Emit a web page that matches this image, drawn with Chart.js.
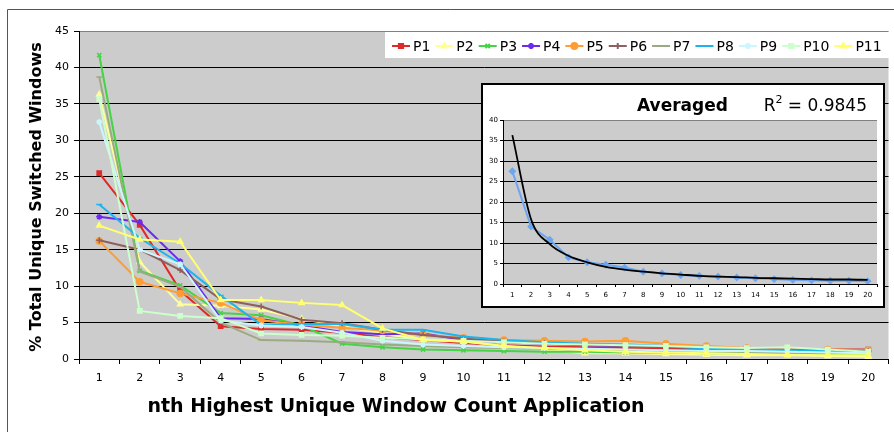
<!DOCTYPE html>
<html>
<head>
<meta charset="utf-8">
<script src="https://cdn.jsdelivr.net/npm/chart.js@4.4.0/dist/chart.umd.min.js"></script>
<style>
    body { margin: 0; background: #fff; }
    #wrap { position: relative; width: 894px; height: 432px; overflow: hidden; }
    #main { position: absolute; left: 0; top: 0; }
    #inset { position: absolute; left: 481px; top: 83px; width: 400px; height: 221px; border: 2px solid #000; background: #fff; }
</style>
</head>
<body>
<div id="wrap">
    <canvas id="main" width="894" height="432"></canvas>
    <div id="inset"><canvas id="avg" width="400" height="221"></canvas></div>
</div>
<script>
// rank of the application (x categories)
const ranks = ['1', '2', '3', '4', '5', '6', '7', '8', '9', '10', '11', '12', '13', '14', '15', '16', '17', '18', '19', '20'];

// % of total unique switched windows, per participant
const p1  = [25.5, 18.4, 9.4, 4.5, 4.1, 4.0, 3.6, 3.0, 2.6, 2.2, 1.9, 1.7, 1.6, 1.5, 1.4, 1.4, 1.3, 1.3, 1.3, 1.3];
const p2  = [36.3, 13.3, 7.5, 7.3, 6.8, 5.5, 4.5, 3.5, 2.6, 2.4, 1.8, 1.3, 0.8, 0.8, 0.7, 0.6, 0.5, 0.5, 0.4, 0.3];
const p3  = [41.7, 12.1, 10.1, 6.3, 6.0, 4.6, 2.1, 1.6, 1.3, 1.2, 1.1, 1.0, 1.0, 0.9, 0.9, 0.8, 0.8, 0.7, 0.7, 0.6];
const p4  = [19.5, 18.8, 13.4, 5.6, 5.5, 4.6, 3.7, 3.4, 3.5, 2.6, 2.3, 2.1, 1.9, 1.8, 1.7, 1.6, 1.4, 1.3, 1.2, 1.1];
const p5  = [16.2, 10.6, 9.0, 7.7, 5.3, 4.7, 4.3, 3.9, 3.3, 2.9, 2.6, 2.5, 2.4, 2.5, 2.1, 1.8, 1.5, 1.4, 1.3, 1.2];
const p6  = [16.3, 15.0, 12.2, 8.2, 7.2, 5.4, 4.9, 4.0, 3.3, 2.8, 2.4, 2.2, 2.0, 1.8, 1.6, 1.5, 1.4, 1.3, 1.2, 1.1];
const p7  = [38.7, 12.0, 9.9, 5.0, 2.6, 2.5, 2.3, 2.0, 1.8, 1.6, 1.5, 1.4, 1.3, 1.2, 1.1, 1.0, 1.0, 0.9, 0.9, 0.8];
const p8  = [21.2, 16.6, 13.1, 8.7, 4.7, 4.8, 4.8, 4.0, 4.0, 3.1, 2.6, 2.3, 2.1, 2.0, 1.8, 1.4, 1.3, 1.2, 1.1, 1.0];
const p9  = [32.5, 15.0, 13.0, 5.3, 4.6, 4.4, 3.6, 2.5, 2.0, 1.8, 1.6, 1.5, 1.4, 1.3, 1.2, 1.1, 1.1, 1.0, 0.9, 0.8];
const p10 = [35.7, 6.6, 5.9, 5.6, 3.5, 3.3, 3.2, 2.9, 2.7, 2.5, 2.3, 2.1, 2.0, 1.9, 1.8, 1.6, 1.5, 1.6, 1.3, 1.0];
const p11 = [18.3, 16.4, 16.1, 8.1, 8.1, 7.7, 7.4, 4.2, 2.6, 2.4, 1.8, 1.5, 1.2, 1.0, 0.9, 0.8, 0.7, 0.6, 0.5, 0.5];

const seriesNames = ['P1', 'P2', 'P3', 'P4', 'P5', 'P6', 'P7', 'P8', 'P9', 'P10', 'P11'];
const seriesValues = [p1, p2, p3, p4, p5, p6, p7, p8, p9, p10, p11];
const seriesColors = ['#DE2A2A', '#FFFF99', '#44D444', '#6A2BEF', '#FF9C33', '#8E5F5F', '#9AAB82', '#1CB4EE', '#CCF6FF', '#CCFFCC', '#FFFF70'];
const seriesMarkers = ['rect', 'triangle', 'crossRot', 'star', 'circle', 'cross', 'line', 'line', 'star', 'rect', 'triangle'];

// inset: averaged values and the power trend line
const avgValues = [27.5, 14.0, 10.8, 6.5, 5.3, 4.7, 4.0, 3.0, 2.6, 2.2, 2.0, 1.8, 1.6, 1.4, 1.2, 1.0, 0.9, 0.8, 0.8, 0.7];
const fitValues = [36.3, 15.8, 9.7, 6.9, 5.3, 4.2, 3.5, 3.0, 2.6, 2.3, 2.0, 1.8, 1.7, 1.5, 1.4, 1.3, 1.2, 1.1, 1.1, 1.0];

const FONT = 'DejaVu Sans';
const PLOT_BG = '#CCCCCC';

const mainDecor = {
    id: 'mainDecor',
    beforeDraw(chart) {
        const c = chart.ctx;
        const a = chart.chartArea;
        c.save();
        c.fillStyle = '#fff';
        c.fillRect(0, 0, chart.width, chart.height);
        c.strokeStyle = '#555';
        c.lineWidth = 1;
        c.beginPath();
        c.moveTo(7.5, chart.height);
        c.lineTo(7.5, 9.5);
        c.lineTo(chart.width, 9.5);
        c.stroke();
        c.fillStyle = PLOT_BG;
        c.fillRect(a.left, a.top, a.right - a.left, a.bottom - a.top);
        c.restore();
    },
    afterDraw(chart) {
        const c = chart.ctx;
        c.save();
        // axis titles
        c.fillStyle = '#000';
        c.textAlign = 'center';
        c.textBaseline = 'middle';
        c.font = 'bold 19px ' + FONT;
        c.fillText('nth Highest Unique Window Count Application', 396, 407);
        c.font = 'bold 16px ' + FONT;
        c.translate(37, 197);
        c.rotate(-Math.PI / 2);
        c.fillText('% Total Unique Switched Windows', 0, 0);
        c.restore();

        // legend box across the top right
        c.save();
        c.fillStyle = '#fff';
        c.fillRect(385, 32, chart.width - 385, 26);
        c.font = '14px ' + FONT;
        c.textBaseline = 'middle';
        c.textAlign = 'left';
        let x = 392;
        const y = 46;
        chart.data.datasets.forEach(ds => {
            c.strokeStyle = ds.borderColor;
            c.lineWidth = 2;
            c.beginPath();
            c.moveTo(x, y);
            c.lineTo(x + 18, y);
            c.stroke();
            c.fillStyle = ds.pointBackgroundColor;
            c.strokeStyle = ds.pointBorderColor;
            Chart.helpers.drawPoint(c, { pointStyle: ds.pointStyle, radius: 3, rotation: 0, borderWidth: 1.5 }, x + 9, y);
            c.fillStyle = '#000';
            c.fillText(ds.label, x + 21, y + 1);
            x += 21 + c.measureText(ds.label).width + 5;
        });
        c.restore();
    }
};

const mainChart = new Chart(document.getElementById('main'), {
    type: 'line',
    data: {
        labels: ranks,
        datasets: seriesNames.map((name, i) => ({
            label: name,
            data: seriesValues[i],
            borderColor: seriesColors[i],
            backgroundColor: seriesColors[i],
            pointBackgroundColor: seriesColors[i],
            pointBorderColor: seriesColors[i],
            pointStyle: seriesMarkers[i],
            pointRadius: 3,
            pointBorderWidth: 1.5,
            borderWidth: 2,
            tension: 0,
            order: seriesNames.length - i
        }))
    },
    options: {
        responsive: false,
        animation: false,
        devicePixelRatio: 1,
        layout: { padding: { top: 31, left: 0, right: 0, bottom: 0 } },
        plugins: {
            legend: { display: false },
            tooltip: { enabled: false }
        },
        scales: {
            x: {
                offset: true,
                grid: {
                    offset: true,
                    drawOnChartArea: false,
                    drawTicks: true,
                    tickLength: 5,
                    tickColor: '#000'
                },
                border: { color: '#000', width: 1 },
                ticks: {
                    color: '#000',
                    font: { family: FONT, size: 11 },
                    padding: 8,
                    maxRotation: 0,
                    autoSkip: false
                },
                afterFit: (s) => { s.height = 73; }
            },
            y: {
                min: 0,
                max: 45,
                ticks: {
                    stepSize: 5,
                    color: '#000',
                    font: { family: FONT, size: 11 },
                    padding: 5
                },
                grid: {
                    color: (ctx) => ctx.tick && ctx.tick.value === 45 ? '#808080' : '#000',
                    tickColor: '#000',
                    tickLength: 5
                },
                border: { color: '#000', width: 1 },
                afterFit: (s) => { s.width = 79; }
            }
        }
    },
    plugins: [mainDecor]
});

const insetDecor = {
    id: 'insetDecor',
    beforeDraw(chart) {
        const c = chart.ctx;
        const a = chart.chartArea;
        c.save();
        c.fillStyle = '#fff';
        c.fillRect(0, 0, chart.width, chart.height);
        c.fillStyle = PLOT_BG;
        c.fillRect(a.left, a.top, a.right - a.left, a.bottom - a.top);
        c.restore();
    },
    afterDraw(chart) {
        const c = chart.ctx;
        c.save();
        c.fillStyle = '#000';
        c.textBaseline = 'alphabetic';
        c.textAlign = 'left';
        c.font = 'bold 17px ' + FONT;
        c.fillText('Averaged', 154, 26);
        // R² = 0.9845, right aligned
        c.font = '17px ' + FONT;
        const rest = ' = 0.9845';
        const wRest = c.measureText(rest).width;
        const wR = c.measureText('R').width;
        c.font = '11px ' + FONT;
        const w2 = c.measureText('2').width;
        let x = 384 - wRest - w2 - wR;
        c.font = '17px ' + FONT;
        c.fillText('R', x, 26);
        c.font = '11px ' + FONT;
        c.fillText('2', x + wR, 18);
        c.font = '17px ' + FONT;
        c.fillText(rest, x + wR + w2, 26);
        c.restore();
    }
};

const avgChart = new Chart(document.getElementById('avg'), {
    type: 'line',
    data: {
        labels: ranks,
        datasets: [
            {
                label: 'Averaged',
                data: avgValues,
                borderColor: '#6CA6F0',
                backgroundColor: '#6CA6F0',
                pointStyle: 'rectRot',
                pointRadius: 2.5,
                borderWidth: 2,
                order: 1
            },
            {
                label: 'Power trend',
                data: fitValues,
                borderColor: '#000',
                borderWidth: 1.8,
                pointRadius: 0,
                cubicInterpolationMode: 'monotone',
                order: 0
            }
        ]
    },
    options: {
        responsive: false,
        animation: false,
        devicePixelRatio: 1,
        layout: { padding: { top: 35, right: 6, left: 0, bottom: 0 } },
        plugins: {
            legend: { display: false },
            tooltip: { enabled: false }
        },
        scales: {
            x: {
                offset: true,
                grid: { offset: true, drawOnChartArea: false, tickLength: 3, tickColor: '#000' },
                border: { color: '#000' },
                ticks: { color: '#000', font: { family: FONT, size: 7 }, padding: 4, maxRotation: 0, autoSkip: false },
                afterFit: (s) => { s.height = 22; }
            },
            y: {
                min: 0,
                max: 40,
                ticks: { stepSize: 5, color: '#000', font: { family: FONT, size: 7 }, padding: 2 },
                grid: {
                    color: (ctx) => ctx.tick && ctx.tick.value === 40 ? '#808080' : '#000',
                    tickColor: '#000',
                    tickLength: 3
                },
                border: { color: '#000' },
                afterFit: (s) => { s.width = 20; }
            }
        }
    },
    plugins: [insetDecor]
});
</script>
</body>
</html>
